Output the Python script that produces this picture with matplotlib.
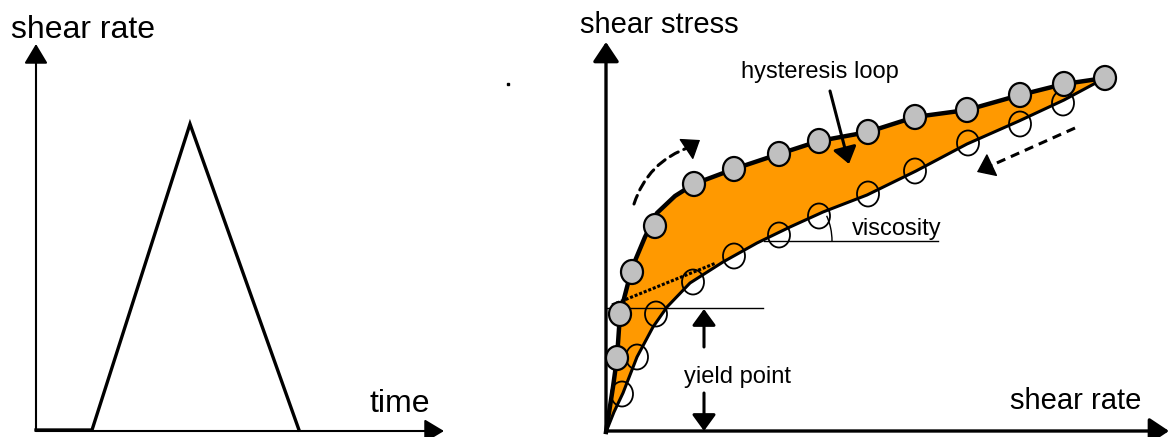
import matplotlib.pyplot as plt
from matplotlib.patches import Arc, Polygon, Ellipse

plt.rcParams['font.family'] = ['Liberation Sans', 'DejaVu Sans']

# everything is in picture pixels, y grows downwards

# left panel: shear rate program vs time
ramp_t = [36, 92, 190, 299]
ramp_rate = [430, 430, 124, 430]

# right panel: flow curve, up (filled) and down (open) measurements
up_x = [617, 620, 632, 655, 694, 734, 779, 819, 868, 915, 967, 1020, 1064, 1105]
up_y = [358, 314, 272, 226, 184, 169, 154, 141, 132, 117, 110, 95, 84, 78]
down_x = [622, 637, 656, 693, 734, 779, 819, 868, 915, 968, 1020, 1063]
down_y = [394, 357, 314, 282, 256, 235, 216, 194, 171, 143, 124, 103]

# the curves drawn through them
up_curve_x = [606, 613, 617, 620, 632, 645, 657, 675, 694, 734, 779, 819, 868, 915, 967, 1020, 1064, 1105]
up_curve_y = [432, 387, 358, 314, 268, 237, 213, 196, 184, 169, 154, 141, 132, 117, 110, 95, 84, 78]
down_curve_x = [606, 614, 623, 637, 653, 667, 690, 723, 757, 790, 823, 867, 916, 967, 1019, 1064, 1105]
down_curve_y = [432, 412, 393, 357, 327, 307, 283, 262, 243, 227, 212, 195, 171, 144, 121, 100, 78]

orange = '#ff9900'
grey = '#c0c0c0'

fig = plt.figure(figsize=(11.7, 4.37), dpi=100)
ax = fig.add_axes([0, 0, 1, 1])
ax.set_xlim(0, 1170)
ax.set_ylim(437, 0)
ax.axis('off')


def arrow(start, end, lw=1.5, hl=0.6, hw=0.4, ms=20):
    ax.annotate('', xy=end, xytext=start,
                arrowprops=dict(arrowstyle='-|>,head_length=%s,head_width=%s' % (hl, hw),
                                lw=lw, color='black', mutation_scale=ms,
                                shrinkA=0, shrinkB=0))


# left panel
arrow((36, 431), (36, 44), lw=1.5, hl=0.6, hw=0.36)
arrow((36, 431), (444, 431), lw=1.5, hl=0.6, hw=0.36)
ax.plot(ramp_t, ramp_rate, color='black', lw=2.4, solid_joinstyle='miter')
ax.text(11, 38, 'shear rate', fontsize=23, ha='left', va='baseline')
ax.text(370, 412, 'time', fontsize=23, ha='left', va='baseline')

# stray dot in the middle
ax.plot([508], [84], marker='s', ms=1.5, color='black')

# right panel fill between curves
loop = list(zip(up_curve_x, up_curve_y)) + list(zip(down_curve_x, down_curve_y))[::-1]
ax.add_patch(Polygon(loop, closed=True, facecolor=orange, edgecolor='none', zorder=1))
ax.plot(up_curve_x, up_curve_y, color='black', lw=3.2, zorder=2, solid_joinstyle='round')
ax.plot(down_curve_x, down_curve_y, color='black', lw=2.2, zorder=2, solid_joinstyle='round')

# axes
arrow((606, 432), (606, 42), lw=2.4, hl=0.6, hw=0.4)
arrow((606, 431), (1169, 431), lw=2.4, hl=0.6, hw=0.4)

# yield point construction
ax.plot([606, 763], [308, 308], color='black', lw=1.0, zorder=2)
ax.plot([612, 716], [305, 263], color='black', lw=2.2, ls=(0, (1, 0.6)), zorder=2)
arrow((704, 347), (704, 309), lw=2.2, hl=0.55, hw=0.4, ms=18)
arrow((704, 393), (704, 431), lw=2.2, hl=0.55, hw=0.4, ms=18)
ax.text(737, 383, 'yield point', fontsize=17, ha='center', va='baseline')

# viscosity slope
ax.plot([764, 938], [241, 241], color='black', lw=1.0, zorder=2)
ax.add_patch(Arc((770, 241), 124, 124, theta1=-24, theta2=0, color='black', lw=1.0, zorder=2))
ax.text(852, 235, 'viscosity', fontsize=17, ha='left', va='baseline')

# hysteresis loop label
ax.text(741, 78, 'hysteresis loop', fontsize=17, ha='left', va='baseline')
arrow((830, 91), (849, 164), lw=2.2, hl=0.55, hw=0.4, ms=18)

# direction arrows (dashed)
ax.annotate('', xy=(690, 147), xytext=(634, 204),
            arrowprops=dict(arrowstyle='-', lw=2.2, ls=(0, (3, 2)), color='black',
                            connectionstyle='arc3,rad=-0.25', shrinkA=0, shrinkB=0))
arrow((688, 148), (700, 140), lw=1, hl=0.6, hw=0.45, ms=18)
ax.plot([1075, 990], [128, 166], color='black', lw=2.2, ls=(0, (3, 2)))
arrow((992, 165), (977, 172), lw=1, hl=0.6, hw=0.45, ms=18)

# measurement points (a touch taller than wide, as in the source)
for x, y in zip(down_x, down_y):
    ax.add_patch(Ellipse((x, y), 22, 25, facecolor='none', edgecolor='black', lw=1.3, zorder=3))
for x, y in zip(up_x, up_y):
    ax.add_patch(Ellipse((x, y), 22, 24, facecolor=grey, edgecolor='black', lw=1.6, zorder=4))

ax.text(580, 33, 'shear stress', fontsize=21, ha='left', va='baseline')
ax.text(1010, 409, 'shear rate', fontsize=21, ha='left', va='baseline')

fig.savefig('out.png', dpi=100)
